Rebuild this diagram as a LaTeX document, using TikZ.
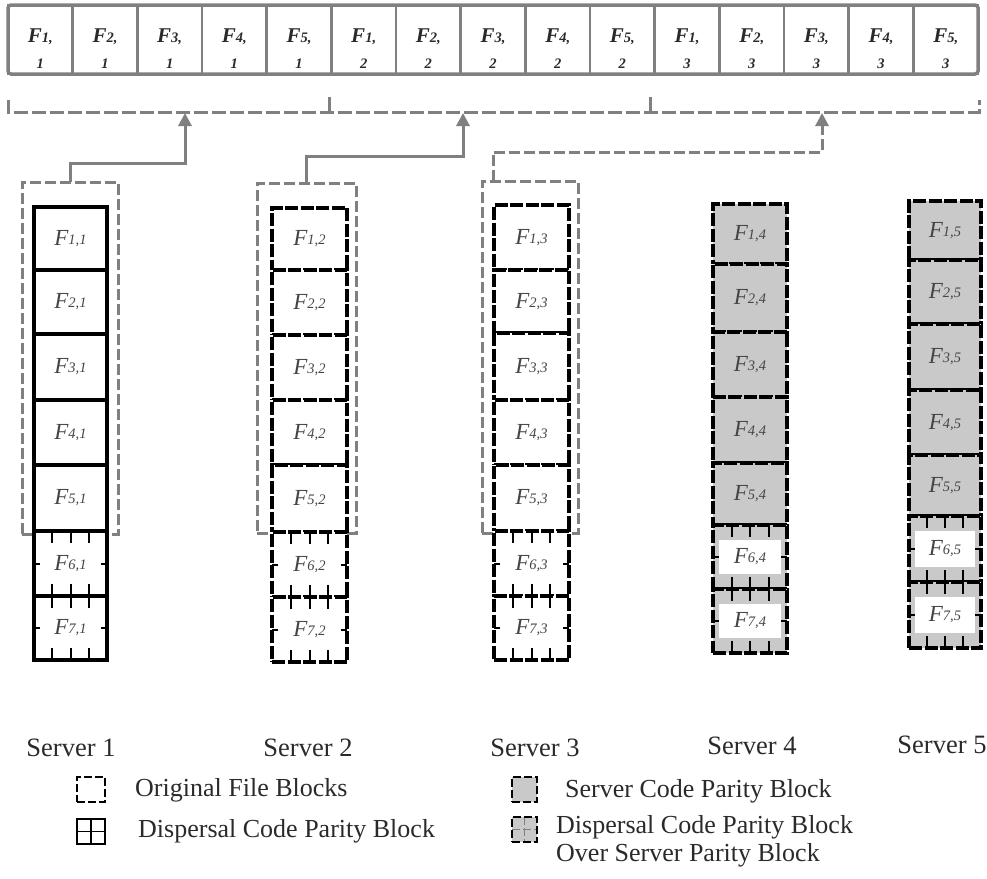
\documentclass[tikz,border=0pt]{standalone}
\usepackage{fontspec}
\setmainfont{Liberation Serif}
\usetikzlibrary{arrows.meta,calc,fit}
\definecolor{lg}{HTML}{808080}
\definecolor{pg}{HTML}{C9C9C9}
\definecolor{tx}{HTML}{454545}
\definecolor{lt}{HTML}{2A2A2A}
\newcommand\fl[2]{\textcolor{tx}{\fontsize{23}{23}\selectfont\itshape F\raisebox{1pt}{\fontsize{14.5}{14.5}\selectfont #1,#2}}}
\newcommand\cellbox[7]{\node[#6, minimum width={(#4-#2)*1pt}, minimum height={(#5-#3)*1pt}] (#1) at ({(#2+#4)/2},{(#3+#5)/2}) {#7};}
\newcommand\celltix{%
  \foreach \f in {0.25,0.5,0.75}{%
    \draw[line width=2pt,black,solid] ($(path picture bounding box.north west)!\f!(path picture bounding box.north east)$) -- ++(0pt,-12pt);
    \draw[line width=2pt,black,solid] ($(path picture bounding box.south west)!\f!(path picture bounding box.south east)$) -- ++(0pt,12pt);
  }%
  \draw[line width=2pt,black,solid] (path picture bounding box.west) -- ++(6pt,0pt);
  \draw[line width=2pt,black,solid] (path picture bounding box.east) -- ++(-6pt,0pt);
}
\newcommand\cellwhite{\fill[white] ([xshift=6pt,yshift=-15pt]path picture bounding box.north west) rectangle ([xshift=-6pt,yshift=15pt]path picture bounding box.south east);}
\tikzset{
  fb/.style={inner sep=0pt, outer sep=0pt},
  orig/.style={fb, draw=black, line width=3.2pt, fill=white},
  origd/.style={orig, dash pattern=on 13pt off 2.5pt},
  disp/.style={orig, path picture={\celltix}},
  dispd/.style={origd, path picture={\celltix}},
  scp/.style={fb, draw=black, line width=3.2pt, fill=pg, dash pattern=on 13pt off 2.5pt},
  dscp/.style={scp, path picture={\cellwhite\celltix}},
  gbox/.style={fb, draw=lg, line width=3pt, dash pattern=on 11pt off 4pt},
  topcell/.style={fb, draw=lg, line width=2.5pt, fill=white, align=center,
    font=\fontsize{14.5}{26}\selectfont\bfseries\itshape, text=lt},
  conn/.style={draw=lg, line width=3pt, -{Triangle[width=13pt,length=13pt]}},
  brk/.style={draw=lg, line width=3pt, dash pattern=on 14pt off 4pt},
  srv/.style={font=\fontsize{26.5}{28}\selectfont, text=lt},
  leg/.style={font=\fontsize{26}{28}\selectfont, text=lt, anchor=west, align=left, inner sep=0pt},
  icon/.style={fb, draw=black, line width=1.6pt},
}
\begin{document}
\begin{tikzpicture}[x=1pt,y=-1pt]
\useasboundingbox (0,0) rectangle (987,878);
% top row of blocks
\foreach \i in {1,...,15}{
  \pgfmathtruncatemacro\k{mod(\i-1,5)+1}
  \pgfmathtruncatemacro\j{int((\i-1)/5)+1}
  \pgfmathsetmacro\xa{8+(\i-1)*64.67}
  \pgfmathsetmacro\xb{\xa+64.67}
  \cellbox{t\i}{\xa}{5}{\xb}{74}{topcell}{\rule{0pt}{32pt}{\fontsize{21}{21}\selectfont F}\k,\\\j}
}
\node[fb, draw=lg, line width=3.5pt, rounded corners=3pt, fit=(t1)(t15)] (top) {};
% bracket
\draw[brk] (8,100) -- (8,112) -- (979,112) -- (979,100);
\draw[draw=lg, line width=3pt] (329,97) -- (329,112);
\draw[draw=lg, line width=3pt] (650,97) -- (650,112);
\coordinate (a1) at (185,113);
\coordinate (a2) at (463,113);
\coordinate (a3) at (822,113);
% grey dashed groups
\node[gbox, fit={(22,182)(118,534)}] (g1) {};
\node[gbox, fit={(257,183)(356,533)}] (g2) {};
\node[gbox, fit={(482,181)(578,533)}] (g3) {};
% connectors
\draw[conn] (g1.north) -- ++(0,-19) -| (a1);
\draw[conn] (g2.north) -- ++(0,-27) -| (a2);
\coordinate (s3top) at ($(g3.north west)!0.115!(g3.north east)$);
\draw[conn, dash pattern=on 11pt off 4pt] (s3top) -- ++(0,-29) -| (a3);
% server 1
\cellbox{s11}{34}{207}{107}{270}{orig}{\fl{1}{1}}
\cellbox{s12}{34}{270}{107}{334}{orig}{\fl{2}{1}}
\cellbox{s13}{34}{334}{107}{400}{orig}{\fl{3}{1}}
\cellbox{s14}{34}{400}{107}{465}{orig}{\fl{4}{1}}
\cellbox{s15}{34}{465}{107}{531}{orig}{\fl{5}{1}}
\cellbox{s16}{34}{531}{107}{596}{disp}{\fl{6}{1}}
\cellbox{s17}{34}{596}{107}{660}{disp}{\fl{7}{1}}
% server 2
\cellbox{s21}{272}{208}{347}{270}{origd}{\fl{1}{2}}
\cellbox{s22}{272}{270}{347}{335}{origd}{\fl{2}{2}}
\cellbox{s23}{272}{335}{347}{400}{origd}{\fl{3}{2}}
\cellbox{s24}{272}{400}{347}{465}{origd}{\fl{4}{2}}
\cellbox{s25}{272}{465}{347}{532}{origd}{\fl{5}{2}}
\cellbox{s26}{272}{532}{347}{597}{dispd}{\fl{6}{2}}
\cellbox{s27}{272}{597}{347}{662}{dispd}{\fl{7}{2}}
% server 3
\cellbox{s31}{494}{205}{569}{270}{origd}{\fl{1}{3}}
\cellbox{s32}{494}{270}{569}{333}{origd}{\fl{2}{3}}
\cellbox{s33}{494}{333}{569}{400}{origd}{\fl{3}{3}}
\cellbox{s34}{494}{400}{569}{465}{origd}{\fl{4}{3}}
\cellbox{s35}{494}{465}{569}{531}{origd}{\fl{5}{3}}
\cellbox{s36}{494}{531}{569}{596}{dispd}{\fl{6}{3}}
\cellbox{s37}{494}{596}{569}{660}{dispd}{\fl{7}{3}}
% server 4
\cellbox{s41}{713}{204}{787}{264}{scp}{\fl{1}{4}}
\cellbox{s42}{713}{264}{787}{332}{scp}{\fl{2}{4}}
\cellbox{s43}{713}{332}{787}{397}{scp}{\fl{3}{4}}
\cellbox{s44}{713}{397}{787}{463}{scp}{\fl{4}{4}}
\cellbox{s45}{713}{463}{787}{525}{scp}{\fl{5}{4}}
\cellbox{s46}{713}{525}{787}{589}{dscp}{\fl{6}{4}}
\cellbox{s47}{713}{589}{787}{653}{dscp}{\fl{7}{4}}
% server 5
\cellbox{s51}{909}{201}{981}{260}{scp}{\fl{1}{5}}
\cellbox{s52}{909}{260}{981}{324}{scp}{\fl{2}{5}}
\cellbox{s53}{909}{324}{981}{390}{scp}{\fl{3}{5}}
\cellbox{s54}{909}{390}{981}{455}{scp}{\fl{4}{5}}
\cellbox{s55}{909}{455}{981}{516}{scp}{\fl{5}{5}}
\cellbox{s56}{909}{516}{981}{582}{dscp}{\fl{6}{5}}
\cellbox{s57}{909}{582}{981}{648}{dscp}{\fl{7}{5}}
% server labels
\node[srv] (n1) at (71,748) {Server 1};
\node[srv] (n2) at (308,748) {Server 2};
\node[srv] (n3) at (535,748) {Server 3};
\node[srv] (n4) at (752,746) {Server 4};
\node[srv] (n5) at (942,745) {Server 5};
% legend
\node[icon, dash pattern=on 8pt off 3pt, fit={(77,777)(105,802)}] (l1) {};
\node[icon, fit={(77,819)(105,844)}, path picture={\draw[line width=1.6pt] (path picture bounding box.north) -- (path picture bounding box.south) (path picture bounding box.west) -- (path picture bounding box.east);}] (l2) {};
\node[icon, fill=pg, dash pattern=on 8pt off 3pt, fit={(512,777)(537,802)}] (l3) {};
\node[icon, fill=pg, dash pattern=on 8pt off 3pt, fit={(512,817)(537,842)}, path picture={\draw[line width=1pt,gray] (path picture bounding box.north) -- (path picture bounding box.south) (path picture bounding box.west) -- (path picture bounding box.east);}] (l4) {};
\node[leg] (lt1) at (135,790) {Original File Blocks};
\node[leg] (lt2) at (138,831) {Dispersal Code Parity Block};
\node[leg] (lt3) at (565,791) {Server Code Parity Block};
\node[leg, anchor=north west] (lt4) at (556,815) {Dispersal Code Parity Block\\Over Server Parity Block};
\end{tikzpicture}
\end{document}
